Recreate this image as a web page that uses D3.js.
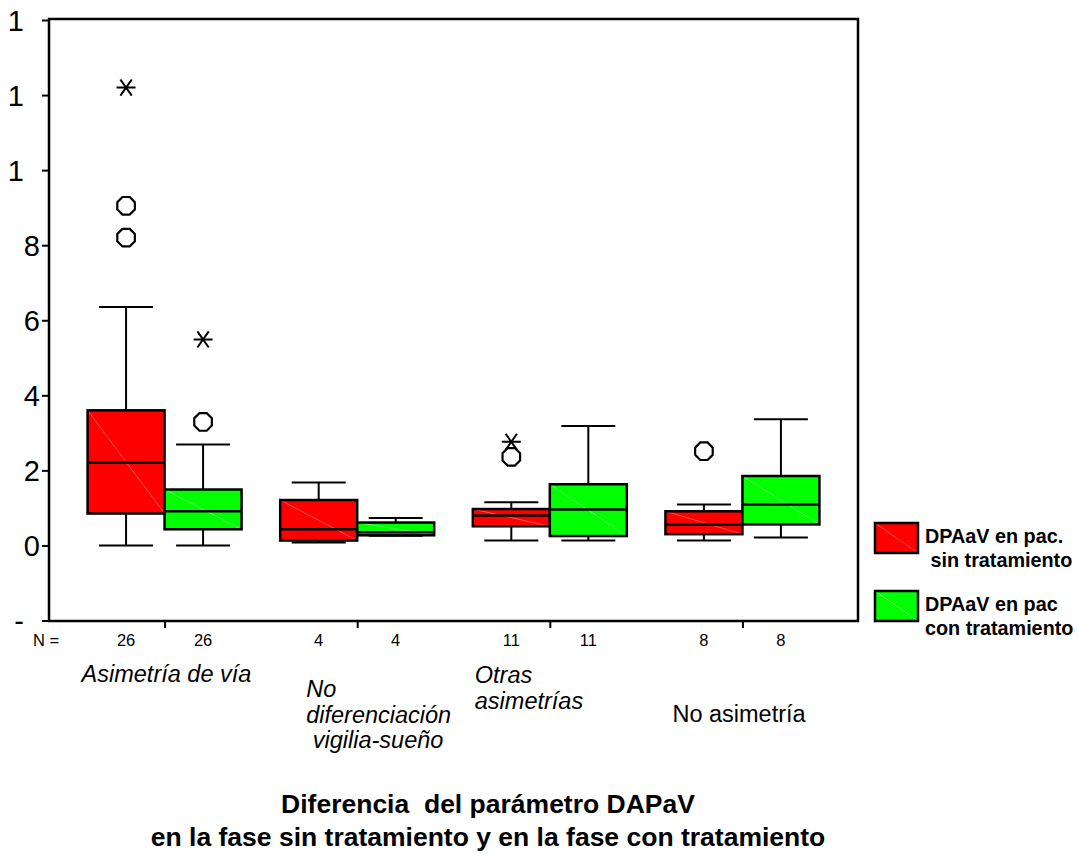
<!DOCTYPE html>
<html>
<head>
<meta charset="utf-8">
<script src="https://cdn.jsdelivr.net/npm/d3@7"></script>
<style>
  body { margin: 0; background: #fff; }
  text { font-family: "Liberation Sans", Arial, sans-serif; }
</style>
</head>
<body>
<svg></svg>
<script>
// categories and counts
const groups = ['Asimetría de vía', 'No diferenciación vigilia-sueño', 'Otras asimetrías', 'No asimetría'];
const nSin = [26, 4, 11, 8];
const nCon = [26, 4, 11, 8];

// [whisker low, q1, median, q3, whisker high]
const statsSin = [
  [0.00, 0.85, 2.21, 3.60, 6.35],
  [0.08, 0.13, 0.43, 1.21, 1.68],
  [0.13, 0.51, 0.80, 0.97, 1.15],
  [0.13, 0.30, 0.56, 0.91, 1.09]
];
const statsCon = [
  [0.00, 0.43, 0.91, 1.49, 2.69],
  [0.26, 0.27, 0.35, 0.61, 0.73],
  [0.13, 0.25, 0.96, 1.63, 3.18],
  [0.21, 0.56, 1.09, 1.85, 3.36]
];
// outliers (circles) and extremes (stars)
const outSin = [[8.20, 9.05], [], [2.36], [2.51]];
const extSin = [[12.20], [], [2.76], []];
const outCon = [[3.29], [], [], []];
const extCon = [[5.49], [], [], []];

const yTicks = [-2, 0, 2, 4, 6, 8, 10, 12, 14];
const legendLabels = [['DPAaV en pac.', ' sin tratamiento'], ['DPAaV en pac', 'con tratamiento']];
const groupLabelLines = [['Asimetría de vía'], ['No', 'diferenciación', ' vigilia-sueño'], ['Otras', 'asimetrías'], ['No asimetría']];
const titleLines = ['Diferencia  del parámetro DAPaV', 'en la fase sin tratamiento y en la fase con tratamiento'];

const frame = {left: 49, top: 19, right: 858, bottom: 621};
const boxW = 77;
const capW = 54;
const colors = {sin: '#ff0000', con: '#00ff00'};
const diag = {sin: '#ff8a8a', con: '#9dff9d'};

const svg = d3.select('svg')
  .attr('width', 1078)
  .attr('height', 855)
  .style('background-color', '#fff');

const yScale = d3.scaleLinear()
  .domain([-2, 14])
  .range([frame.bottom - 0.5, frame.top + 1]);

const xScale = d3.scalePoint()
  .domain(groups)
  .range([frame.left, frame.right])
  .padding(0.6);

// y axis
const yAxis = svg.append('g')
  .attr('transform', `translate(${frame.left}, 0)`)
  .call(d3.axisLeft(yScale)
    .tickValues(yTicks)
    .tickSize(7)
    .tickPadding(2)
    .tickFormat(d => String(d)[0]));
yAxis.select('.domain').remove();
yAxis.selectAll('line').attr('stroke', '#000').attr('stroke-width', 2);
yAxis.selectAll('text')
  .attr('font-size', 29)
  .attr('fill', '#000')
  .attr('dy', '0.36em')
  .attr('dx', d => String(d).length > 1 ? '-0.556em' : 0);

// x axis ticks
const xAxis = svg.append('g')
  .attr('transform', `translate(0, ${frame.bottom})`)
  .call(d3.axisBottom(xScale).tickSize(7).tickFormat(''));
xAxis.select('.domain').remove();
xAxis.selectAll('line').attr('stroke', '#000').attr('stroke-width', 2);

// frame
svg.append('rect')
  .attr('x', frame.left)
  .attr('y', frame.top)
  .attr('width', frame.right - frame.left)
  .attr('height', frame.bottom - frame.top)
  .attr('fill', 'none')
  .attr('stroke', '#000')
  .attr('stroke-width', 2.5);

const series = [
  {key: 'sin', stats: statsSin, out: outSin, ext: extSin, n: nSin, offset: -boxW},
  {key: 'con', stats: statsCon, out: outCon, ext: extCon, n: nCon, offset: 0}
];

series.forEach(s => {
  const g = svg.append('g');
  groups.forEach((grp, i) => {
    const [lo, q1, med, q3, hi] = s.stats[i];
    const x0 = xScale(grp) + s.offset;
    const cx = x0 + boxW / 2;
    // whiskers
    g.append('line').attr('x1', cx).attr('x2', cx).attr('y1', yScale(q3)).attr('y2', yScale(hi))
      .attr('stroke', '#000').attr('stroke-width', 2);
    g.append('line').attr('x1', cx).attr('x2', cx).attr('y1', yScale(q1)).attr('y2', yScale(lo))
      .attr('stroke', '#000').attr('stroke-width', 2);
    g.append('line').attr('x1', cx - capW / 2).attr('x2', cx + capW / 2).attr('y1', yScale(hi)).attr('y2', yScale(hi))
      .attr('stroke', '#000').attr('stroke-width', 2);
    g.append('line').attr('x1', cx - capW / 2).attr('x2', cx + capW / 2).attr('y1', yScale(lo)).attr('y2', yScale(lo))
      .attr('stroke', '#000').attr('stroke-width', 2);
    // box
    g.append('rect')
      .attr('x', x0).attr('y', yScale(q3))
      .attr('width', boxW).attr('height', yScale(q1) - yScale(q3))
      .attr('fill', colors[s.key]);
    g.append('line')
      .attr('x1', x0).attr('y1', yScale(q3)).attr('x2', x0 + boxW).attr('y2', yScale(q1))
      .attr('stroke', diag[s.key]).attr('stroke-width', 0.6);
    g.append('rect')
      .attr('x', x0).attr('y', yScale(q3))
      .attr('width', boxW).attr('height', yScale(q1) - yScale(q3))
      .attr('fill', 'none').attr('stroke', '#000').attr('stroke-width', 2.5);
    g.append('line').attr('x1', x0).attr('x2', x0 + boxW).attr('y1', yScale(med)).attr('y2', yScale(med))
      .attr('stroke', '#000').attr('stroke-width', 2.5);
    // outliers, drawn as octagons
    const oct = d3.range(8).map(k => {
      const a = Math.PI / 8 + k * Math.PI / 4;
      return [Math.cos(a) * 9.5, Math.sin(a) * 9.5];
    });
    s.out[i].forEach(v => {
      g.append('path')
        .attr('d', 'M' + oct.map(p => [cx + p[0], yScale(v) + p[1]].join(',')).join('L') + 'Z')
        .attr('fill', 'none').attr('stroke', '#000').attr('stroke-width', 2.2);
    });
    s.ext[i].forEach(v => {
      const y = yScale(v);
      const r = 9.5;
      g.append('path')
        .attr('d', `M${cx - r},${y}H${cx + r}M${cx - r * 0.6},${y - r * 0.85}L${cx + r * 0.6},${y + r * 0.85}M${cx + r * 0.6},${y - r * 0.85}L${cx - r * 0.6},${y + r * 0.85}`)
        .attr('fill', 'none').attr('stroke', '#000').attr('stroke-width', 2);
    });
    // N label
    svg.append('text')
      .text(s.n[i])
      .attr('x', cx)
      .attr('y', 646)
      .attr('text-anchor', 'middle')
      .attr('font-size', 16.5)
      .attr('fill', '#000');
  });
});

svg.append('text')
  .text('N =')
  .attr('x', 33)
  .attr('y', 646)
  .attr('font-size', 16.5)
  .attr('fill', '#000');

// category labels
const labelPos = [
  {dx: -83, y: 682, italic: true},
  {dx: -51, y: 697, italic: true},
  {dx: -75, y: 683, italic: true},
  {dx: -70, y: 722, italic: false}
];
groups.forEach((grp, i) => {
  const t = svg.append('text')
    .attr('x', xScale(grp) + labelPos[i].dx)
    .attr('y', labelPos[i].y)
    .attr('font-size', 23.5)
    .attr('font-style', labelPos[i].italic ? 'italic' : 'normal')
    .attr('fill', '#000')
    .style('white-space', 'pre');
  groupLabelLines[i].forEach((line, j) => {
    t.append('tspan')
      .attr('x', xScale(grp) + labelPos[i].dx)
      .attr('dy', j === 0 ? 0 : 25.5)
      .text(line);
  });
});

// legend
const legendKeys = ['sin', 'con'];
legendKeys.forEach((k, i) => {
  const ly = 523 + i * 68;
  svg.append('rect')
    .attr('x', 875).attr('y', ly)
    .attr('width', 43).attr('height', 30)
    .attr('fill', colors[k]);
  svg.append('line')
    .attr('x1', 875).attr('y1', ly).attr('x2', 918).attr('y2', ly + 30)
    .attr('stroke', diag[k]).attr('stroke-width', 0.6);
  svg.append('rect')
    .attr('x', 875).attr('y', ly)
    .attr('width', 43).attr('height', 30)
    .attr('fill', 'none').attr('stroke', '#000').attr('stroke-width', 2.5);
  const t = svg.append('text')
    .attr('x', 925)
    .attr('y', ly + 20)
    .attr('font-size', 19.8)
    .attr('font-weight', 'bold')
    .attr('fill', '#000')
    .style('white-space', 'pre');
  legendLabels[i].forEach((line, j) => {
    t.append('tspan').attr('x', 925).attr('dy', j === 0 ? 0 : 23.5).text(line);
  });
});

// title
titleLines.forEach((line, i) => {
  svg.append('text')
    .text(line)
    .attr('x', 488)
    .attr('y', 813 + i * 33)
    .attr('text-anchor', 'middle')
    .attr('font-size', 26.5)
    .attr('font-weight', 'bold')
    .attr('fill', '#000')
    .style('white-space', 'pre');
});
</script>
</body>
</html>
